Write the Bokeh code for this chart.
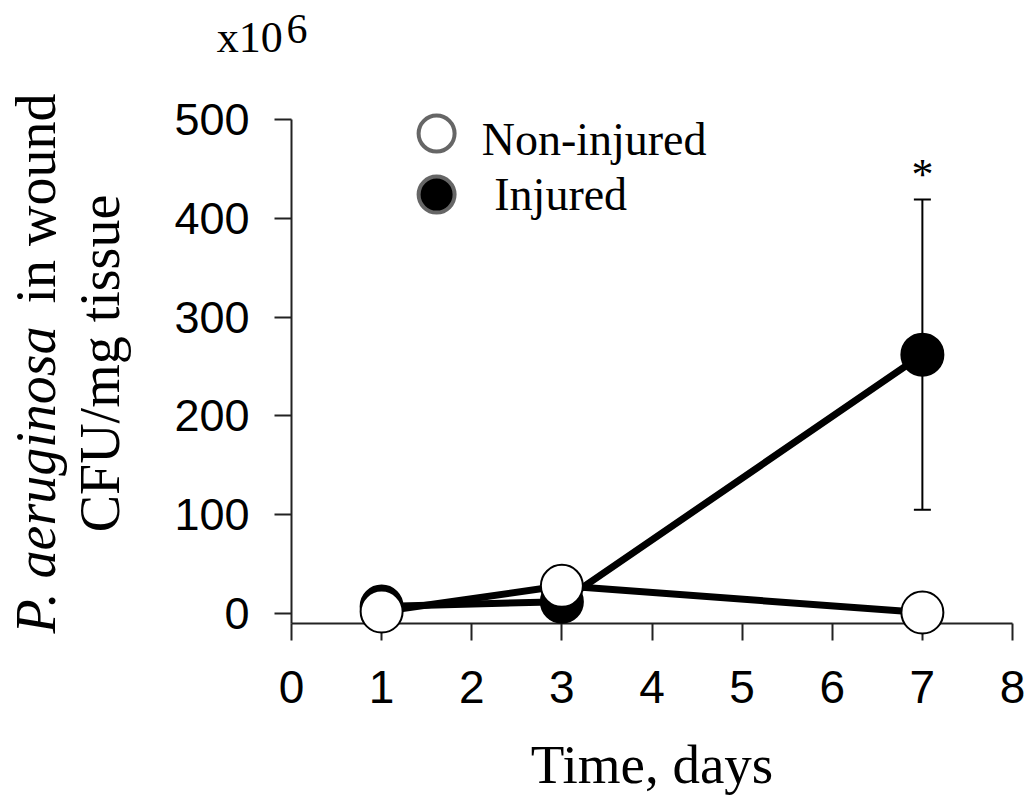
import math
from bokeh.plotting import figure
from bokeh.models import (ColumnDataSource, Label, Whisker, TeeHead, FixedTicker,
                          Range1d, LinearAxis)
from bokeh.embed import file_html
from bokeh.resources import INLINE

# ---- data ----
days = [1, 3, 7]
non_injured = [2, 28, 1]
injured = [7, 12, 262]
err_days = [7]
err_mean = [262]
err_sd = [157]
x_ticks = [0, 1, 2, 3, 4, 5, 6, 7, 8]
y_ticks = [0, 100, 200, 300, 400, 500]
legend_labels = ["Non-injured", "Injured"]

SERIF = "Liberation Serif"
SANS = "Liberation Sans"

W, H = 1025, 800
# pixel placement of the data area (x: 0..8, y: -10..500)
X0_PX, XPU = 291.0, 90.125
Y0_PX, YPU = 613.0, 0.988

p = figure(width=W, height=H,
           x_range=Range1d(-X0_PX / XPU, (W - X0_PX) / XPU),
           y_range=Range1d((Y0_PX - H) / YPU, Y0_PX / YPU),
           output_backend="svg", toolbar_location=None,
           x_axis_location=None, y_axis_location=None,
           min_border=0)
p.outline_line_color = None
p.xgrid.visible = False
p.ygrid.visible = False
p.background_fill_color = "white"
p.border_fill_color = "white"

xax = LinearAxis(fixed_location=-10, bounds=(0, 8))
yax = LinearAxis(fixed_location=0, bounds=(-10, 500))
p.add_layout(xax, "below")
p.add_layout(yax, "left")

for ax, ticks in ((xax, x_ticks), (yax, y_ticks)):
    ax.ticker = FixedTicker(ticks=ticks)
    ax.major_tick_in = 0
    ax.major_tick_out = 17
    ax.minor_tick_in = 0
    ax.minor_tick_out = 0
    ax.axis_line_width = 2
    ax.axis_line_color = "#222222"
    ax.major_tick_line_width = 2
    ax.major_tick_line_color = "#222222"
    ax.major_label_text_font = SANS
    ax.major_label_text_color = "black"
xax.major_label_text_font_size = "46px"
yax.major_label_text_font_size = "45px"
xax.major_label_standoff = 31
yax.major_label_standoff = 25

# lines
p.line(days, injured, line_color="black", line_width=7)
p.line(days, non_injured, line_color="black", line_width=7)

# error bar
esrc = ColumnDataSource(dict(
    x=err_days,
    upper=[m + s for m, s in zip(err_mean, err_sd)],
    lower=[m - s for m, s in zip(err_mean, err_sd)]))
w = Whisker(source=esrc, base="x", upper="upper", lower="lower",
            line_color="black", line_width=2,
            upper_head=TeeHead(size=17, line_width=2, line_color="black"),
            lower_head=TeeHead(size=17, line_width=2, line_color="black"))
p.add_layout(w)

r1 = p.scatter(days, injured, marker="circle", size=42,
               fill_color="black", line_color="black", line_width=2)
r2 = p.scatter(days, non_injured, marker="circle", size=42,
               fill_color="white", line_color="black", line_width=2)
r1.level = "overlay"
r2.level = "overlay"

# legend (manual)
lx = [1.61, 1.61]
ly = [485.8, 424]
p.scatter([lx[0]], [ly[0]], marker="circle", size=36,
          fill_color="white", line_color="#666666", line_width=4)
p.scatter([lx[1]], [ly[1]], marker="circle", size=36,
          fill_color="black", line_color="#666666", line_width=4)


def add_label(**kw):
    kw.setdefault("text_color", "black")
    kw.setdefault("text_baseline", "alphabetic")
    lab = Label(**kw)
    p.add_layout(lab)
    return lab


add_label(x=2.11, y=480, text=legend_labels[0], text_font=SERIF, text_font_size="46px")
add_label(x=2.25, y=424, text=legend_labels[1], text_font=SERIF, text_font_size="46px")

# significance star
add_label(x=7, y=444, text="*", text_font=SERIF, text_font_size="44px", text_align="center")

# multiplier
add_label(x=-0.83, y=583, text="x10", text_font=SERIF, text_font_size="44px")
add_label(x=-0.055, y=592, text="6", text_font=SERIF, text_font_size="42px")

# x title
add_label(x=4.0, y=-153, text="Time, days", text_font=SERIF,
          text_font_size="55px", text_align="center")

# y title (rotated, two lines, partly italic)
add_label(x=-2.83, y=-20.2, text="P. aeruginosa", angle=math.pi / 2,
          text_font=SERIF, text_font_style="italic", text_font_size="56px",
          text_align="left")
add_label(x=-2.83, y=526.3, text="in wound", angle=math.pi / 2,
          text_font=SERIF, text_font_size="56px", text_align="right")
add_label(x=-2.13, y=253, text="CFU/mg tissue", angle=math.pi / 2,
          text_font=SERIF, text_font_size="56px", text_align="center")

open("out.html", "w").write(file_html(p, INLINE))
